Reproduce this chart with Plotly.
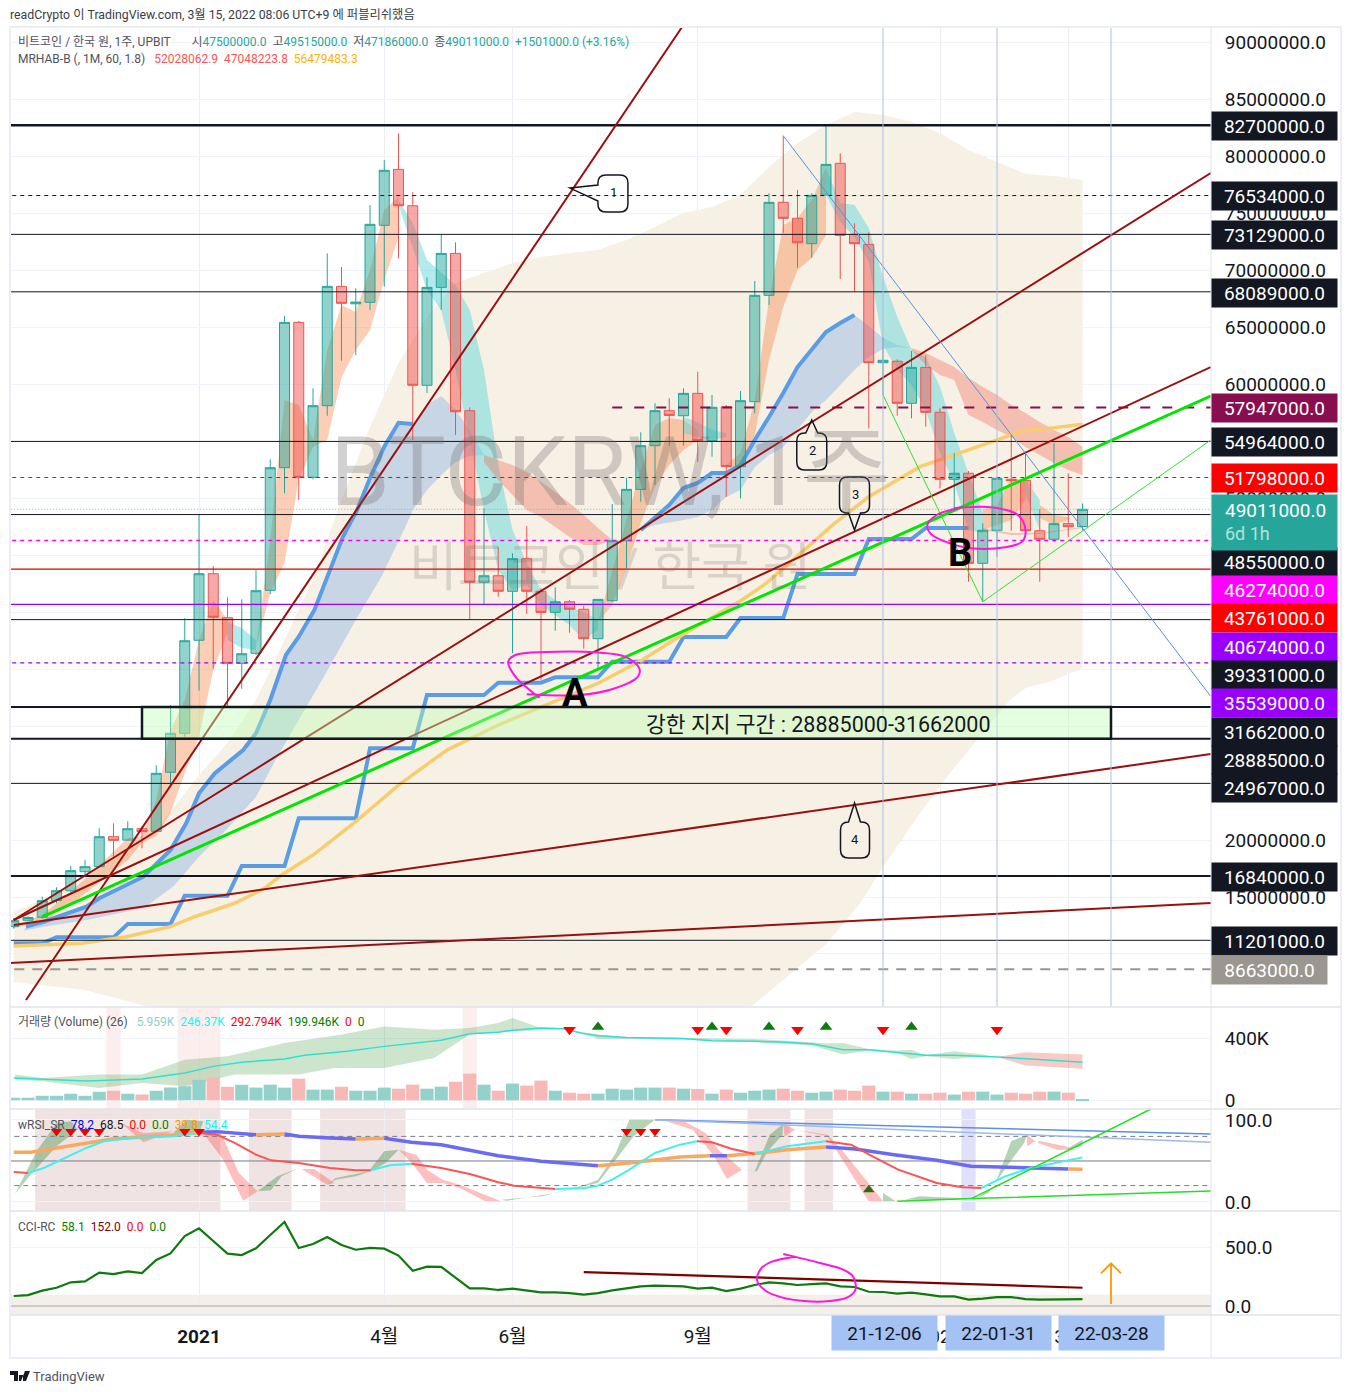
import numpy as np
import plotly.graph_objects as go

W, H = 1351, 1394
FONT = "Roboto, 'Noto Sans CJK KR', sans-serif"
INK = "#131722"

# ---------- weekly price data (millions KRW) ----------
opens = [12.40,12.96,13.22,14.68,15.55,17.22,17.66,20.29,19.99,20.99,20.76,25.94,29.36,37.52,43.36,39.5,35.5,36.38,41.9,52.66,
 65.41,51.82,58.1,68.57,67.04,67.17,73.92,78.83,75.64,59.89,68.48,71.46,57.66,42.61,43.18,41.82,44.68,41.82,39.97,40.9,
 40.24,37.66,41.0,46.25,50.76,54.59,57.66,57.22,59.18,55.03,58.01,52.75,58.45,67.78,75.94,74.54,72.31,76.58,79.36,73.13,
 72.25,61.87,62.0,58.31,61.46,57.52,51.64,52.17,44.27,47.17,51.64,51.55,47.13,46.38,47.75,47.5]
highs = [13.16,13.3,15.03,15.85,17.72,18.25,21.03,21.46,21.64,21.2,26.55,31.84,39.45,48.6,44.04,41.29,41.11,43.68,53.39,65.96,
 65.53,59.62,71.46,70.26,68.39,75.7,79.65,81.99,76.82,69.36,73.13,72.43,57.96,49.1,45.68,45.15,47.54,42.08,42.17,41.05,
 40.53,41.11,49.47,51.78,55.76,58.31,58.75,59.62,61.08,59.04,58.16,59.39,69.04,76.73,81.78,77.02,76.73,82.7,80.24,74.1,
 73.31,64.1,62.17,62.89,62.54,57.87,53.92,52.37,47.78,51.73,55.53,54.06,49.01,54.85,52.17,49.515]
lows = [12.22,12.9,13.1,14.45,15.18,16.78,17.6,18.54,19.94,19.27,20.7,24.68,29.06,33.1,35.03,31.69,33.27,36.23,41.58,50.41,
 49.82,51.64,57.22,62.04,62.54,66.49,68.54,71.03,55.09,59.21,66.49,55.53,39.39,40.68,41.34,36.38,39.82,34.04,38.36,38.18,
 36.78,34.91,40.9,43.83,49.68,51.14,54.56,54.59,53.18,53.62,50.11,49.97,57.43,66.93,73.27,70.2,71.08,76.58,69.21,68.1,
 56.11,59.04,57.22,56.99,56.25,50.85,48.89,42.66,40.9,44.85,47.13,47.13,42.66,46.17,46.6,47.186]
closes = [12.92,13.2,14.68,15.55,17.31,17.66,20.29,19.97,20.99,20.73,25.85,29.36,37.48,43.36,39.54,35.5,36.34,41.87,52.66,65.41,
 51.82,58.1,68.57,67.08,67.19,74.01,78.75,75.64,59.89,68.48,71.46,57.57,42.61,43.18,41.82,44.68,41.82,39.97,40.9,40.24,
 37.66,41.11,46.25,50.76,54.59,57.66,57.25,59.18,55.03,57.96,52.75,58.54,67.78,75.94,74.54,72.39,76.55,79.27,73.04,72.31,
 61.87,62.08,58.31,61.46,57.52,51.64,52.17,44.27,47.17,51.73,51.52,47.13,46.38,47.75,47.48,49.011]
volume_k = [17,17,30,30,43,30,56,62,43,37,62,82,90,133,148,88,101,82,101,82,140,69,69,88,62,62,82,75,101,75,88,120,172,101,62,108,95,127,62,49,43,43,75,69,82,82,82,
 75,73,43,69,49,62,69,75,62,49,56,69,62,95,56,56,43,43,49,37,56,56,37,49,43,56,56,49,5.959]
cci_vals = [85,93,130,155,201,209,283,271,294,280,390,446,593,658,551,444,432,489,602,712,492,525,585,517,477,492,486,427,299,333,331,240,150,150,136,147,130,116,116,110,96,110,133,153,167,172,167,
 167,147,155,127,147,178,201,192,178,186,192,167,161,121,119,105,113,99,82,82,54,62,76,76,59,54,56,56,58]
weeks = list(range(len(closes)))

# ---------- MRHAB envelope and bands (millions) ----------
env_up_w = [0,5,10,13,15,17,19,21,23,25,27,29,31,33,35,37,39,41,43,45,47,49,51,53,55,57,59,61,63,65,67,69,71,73,75]
env_up_p = [13.68,16.49,20.88,25.70,28.51,32.28,37.54,42.81,49.82,56.23,61.84,65.88,68.86,69.74,70.61,71.14,71.49,71.75,72.63,73.77,75.0,75.53,76.58,79.04,81.14,82.72,83.86,83.6,82.98,82.02,80.53,79.47,78.42,78.25,77.89]
env_lo_w = [0,5,9,11,30,50,51.7,54,57.1,59.4,61,63.4,65.7,68,69.9,71.1,72.7,75]
env_lo_p = [7.54,6.84,5.53,4.2,2.0,3.33,5.35,7.72,10.96,14.47,17.63,22.02,25.88,29.39,32.28,33.42,33.86,35.09]

orange_bands = [
 ([0,2,4,6,8,9,10,11,12,13,14,15],
  [12.46,13.42,15.44,17.81,20.18,20.35,23.51,29.65,32.28,37.54,41.05,39.3],
  [12.28,12.81,14.3,16.32,18.25,19.74,20.35,22.37,25.88,29.04,34.91,38.16]),
 ([17,18,19,20,21,22,23,24,25,26,27],
  [36.93,46.32,58.6,58.16,55.09,62.98,66.93,66.32,70.0,75.26,76.4],
  [36.93,41.67,44.3,51.58,54.47,55.09,60.61,62.98,64.74,69.12,72.89]),
 ([41,42,43,44,45,46,47,48],
  [39.12,43.68,48.07,52.46,56.4,57.02,56.84,55.96],
  [39.12,40.61,43.95,47.81,50.96,52.89,54.21,55.09]),
 ([50,51,52,53,54,55,56,57],
  [52.89,53.95,58.6,67.37,73.95,74.56,76.14,78.95],
  [52.63,52.72,55.53,62.1,66.75,70.0,71.05,73.07]),
 ([68,69,70,71],[48.95,49.39,51.75,51.58],[47.19,47.63,48.07,49.82]),
 ([72,73,74],[49.39,48.51,48.33],[48.25,47.63,48.07]),
]
cyan_bands = [
 ([15,16,17],[39.12,38.6,37.54],[37.54,36.84,36.67]),
 ([27,28,29,30,31,32,33,34,35,36,37,38,39,40,41],
  [76.14,74.12,70.88,69.82,68.68,66.49,61.23,52.89,47.19,44.3,41.93,41.05,40.44,40.0,39.3],
  [75.7,71.93,68.25,66.49,61.23,55.09,48.95,43.68,41.93,42.37,40.61,39.74,38.86,37.54,38.42]),
 ([47,48,49,50],[57.11,56.67,55.96,55.7],[55.7,55.35,55.09,55.35]),
 ([57,58,59,60,61,62,63,64,65,66,67,68],
  [78.95,75.88,75.7,73.68,69.39,65.88,62.98,62.37,59.74,55.7,52.19,48.68],
  [76.58,74.21,72.89,70.7,63.42,61.23,59.91,57.72,53.95,51.32,47.19,46.93]),
 ([71,72],[51.58,49.82],[50.26,47.19]),
]
salmon_bands = [
 ([33,34,35,36,37,38,39,40,41,42],
  [53.77,53.33,52.89,52.28,51.4,50.53,49.56,48.51,47.37,46.32],
  [53.16,51.58,50.26,48.95,48.33,47.46,46.58,45.88,45.88,46.32]),
 ([63,64,65,66,67,68,69,70,71,72,73,74,75],
  [63.16,62.72,62.11,61.49,60.53,59.74,59.04,58.16,57.46,56.67,55.96,55.35,54.47],
  [62.98,61.67,60.79,60.35,57.28,56.67,55.96,55.35,54.47,53.77,53.07,52.46,52.02]),
 ([68,70,72,75],[47.37,46.93,46.93,47.46],[47.19,46.75,46.85,47.37]),
]
blue1_w = [0.86,2.1,5.1,6,9.1,11,12.1,13,14.1,16.1,17,18,19.1,20,21.1,22.2,23.1,24.1,25,26,27,28]
blue1_p = [12.4,12.83,14.15,14.89,16.78,19.12,21.46,24.09,25.84,27.89,29.36,32.28,36.23,37.83,40.18,43.68,46.6,48.95,51.75,54.5,56.6,56.49]
blue1_tail_w = [29,30,31,32,33]
blue1_tail_p = [58.16,58.95,57.72,55.96,53.77]
blue1_lo_w = [0.7,2.1,5.1,9.1,11.2,13,14.9,17,18.5,20,21.9,24,25.8,27.6,28,29,30,31,32,33]
blue1_lo_p = [12.04,12.4,12.98,14.01,15.91,18.54,20.88,23.8,27.31,30.53,34.62,39.3,43.1,47.78,48.95,50.7,52.02,53.16,53.68,53.77]
blue2_w = [44,45,46,47,48,49,50,51,52,53,54,55,56,57,58,59]
blue2_p = [47.19,48.25,49.39,50.88,51.32,52.19,52.19,52.89,55.09,57.11,59.21,61.49,62.98,64.56,65.35,66.05]
blue2_tail_w = [60,61,62,63]
blue2_tail_p = [65.09,64.04,63.42,63.16]
blue2_lo_w = [44,45,47,48,49,50,51,52,53,54,55,56,57,58,59,60,61,62,63]
blue2_lo_p = [47.19,47.63,48.07,48.33,48.95,50.09,50.7,52.72,53.77,54.47,55.96,57.54,58.6,59.91,61.23,62.37,63.07,63.25,63.16]

step_ma = [10.94,10.94,10.94,11.46,11.46,11.46,11.46,11.46,12.63,12.63,12.63,12.63,15.11,15.11,15.11,15.11,17.72,17.72,17.72,17.72,
 21.9,21.9,21.9,21.9,21.9,28.04,28.04,28.04,28.04,32.72,32.72,32.72,32.72,32.72,33.8,33.8,33.8,33.8,34.27,34.27,34.27,34.27,
 35.64,35.64,35.64,35.64,35.64,37.81,37.81,37.81,37.81,39.47,39.47,39.47,39.47,43.33,43.33,43.33,43.33,43.33,46.4,46.4,46.4,46.4,47.37,47.37,47.37,47.37]
slow_w = [0,2.1,4.8,7.9,11,12.7,15.5,17.6,18.8,21,24,27,30.4,34,37,41,44.1,46.7,48.9,51.1,52.8,55.5,57.6,60,62.4,63.6,66.3,69.6,70.8,72.6,75]
slow_p = [10.7,10.79,10.94,11.52,12.4,13.27,14.45,15.76,16.93,18.68,21.61,24.82,27.89,30.09,31.69,33.75,35.79,37.83,39.45,41.05,42.52,45.44,47.78,50.11,51.87,52.75,53.92,55.38,55.88,56.11,56.48]

# ---------- price levels ----------
levels = [
 (82.7,"#131722",2.5,"solid"),(76.534,"#131722",1,"4px,4px"),(73.129,"#131722",1,"solid"),(68.089,"#131722",1,"solid"),
 (54.964,"#131722",1,"solid"),(51.798,"#ff0000",1,"4px,4px"),(49.011,"#7fbfb8",1,"1px,2px"),(48.55,"#131722",1,"solid"),
 (46.274,"#ff00ff",1.3,"4px,4px"),(43.761,"#e00000",1.2,"solid"),(40.674,"#9900ff",1.3,"solid"),(39.331,"#131722",1,"solid"),
 (35.539,"#9900ff",1.3,"4px,4px"),(31.662,"#131722",2,"solid"),(28.885,"#131722",2,"solid"),(24.967,"#131722",1,"solid"),
 (16.84,"#131722",2,"solid"),(11.201,"#131722",1,"solid"),(8.663,"#9b9690",2,"10px,8px")]
price_tags = [
 ("82700000.0",126,INK),("76534000.0",196,INK),("73129000.0",235,INK),("68089000.0",293,INK),("57947000.0",408,"#880e4f"),
 ("54964000.0",442,INK),("51798000.0",478,"#ff0000"),("48550000.0",562,INK),("46274000.0",590,"#ff00ff"),
 ("43761000.0",618,"#ff0000"),("40674000.0",647,"#9900ff"),("39331000.0",675,INK),("35539000.0",703,"#9900ff"),
 ("31662000.0",732,INK),("28885000.0",760,INK),("24967000.0",788,INK),("16840000.0",877,INK),("11201000.0",941,INK),("8663000.0",970,"#9b9690")]

# ---------- trend lines (week, price in millions) ----------
red_lines = [([0.86,46.9],[5.96,91.32]),([0,84],[12.98,78.51]),([0,84],[12.98,61.49]),([0,84],[12.54,27.54]),([-0.3,84.1],[9.21,14.47])]
lime_w, lime_p = [2,84],[13.25,58.95]
thin_green_w, thin_green_p = [61,68,84],[59.04,40.9,55.09]
thin_blue_w, thin_blue_p = [54,84],[81.78,32.6]
circle_a_w = [36.0,39.8,42.2,43.8,43.9,42.9,41,37.4,35.2,34.7,35.2,36.2,36.9]
circle_a_p = [32.78,32.72,33.31,34.33,35.06,36.08,36.44,36.49,36.23,35.64,34.33,33.16,32.48]
circle_b_w = [65.97,68.67,70.47,71.0,70.77,69.57,67.17,65.37,64.32,64.11,64.77,66.27]
circle_b_p = [49.1,49.18,48.51,47.19,46.17,45.68,45.59,46.17,46.9,47.63,48.51,49.1]
vlines = [61,69,77]
zone = (9,77,28.885,31.662)

# ---------- volume indicator (K) ----------
vma_w = [0,2.1,5.1,9,12,14,16,19,20.4,23.4,26,30,32,34,35,37,38.6,39.8,41,43,45.6,47,48.1,49,52,54.2,56.1,58.2,60,62.1,64,66,69,70.8,75]
vma_v = [144,138,125,138,176,219,245,267,290,316,348,387,430,439,452,467,462,434,417,406,402,398,391,385,381,374,363,327,327,310,290,290,280,269,246]
vgreen_up_w = [0.1,2,6,9,12,15,19,23,26,29.5,32,34,35,37,38.6,40,41,43,47,52,56,57,58.2,60,62,63,64,66,68,69]
vgreen_up_v = [166,144,166,166,262,284,370,424,477,456,467,499,531,467,456,439,424,409,404,396,374,366,370,331,322,327,290,316,295,280]
vgreen_lo_w = [0.1,2,6,9,12,14,15.5,20,22.5,26,29.5,32,35,38.6,40,41,43,47,52,56,58.2,60,62,63,64,66,68,69]
vgreen_lo_v = [133,123,80,112,90,133,166,166,209,209,273,424,445,456,430,396,396,391,374,353,295,322,305,267,284,267,284,280]
vred_w = [69,71,75]
vred_up = [280,310,295]
vred_lo = [280,224,204]
v_down_w = [39,48,50,55,61,69]
v_up_w = [41,49,53,57,63]
v_down_y, v_up_y = 456, 473
v_bands = [(6.5,7.5),(11.5,14.5),(31.5,32.5)]

# ---------- RSI indicator ----------
rsi_w = [0,1.2,3,5.1,6.9,9.1,11,12.1,13,14.25,17,19,20,22.2,24,26,27.9,30,32,34,37,40.1,41,43.2,46.75,48.85,50.05,52,54.26,57,59.06,61.77,64.77,67.17,69.57,74,75]
rsi_v = [60.6,60.6,65.9,72,76.8,79.3,81.3,82.9,85,85.8,82.1,82.9,80.1,78,76.8,77.6,72.8,69.9,63,56.5,49.6,44.7,44.3,47.6,54.9,56.5,56.5,59,63.8,67.1,64.6,57.7,50.8,43.5,42.7,40.2,39.8]
rsi_segments = [(0,13,"o"),(13,17,"b"),(17,19,"o"),(19,24,"b"),(24,26,"o"),(26,41,"b"),(41,48.85,"o"),(48.85,50.05,"b"),(50.05,57,"o"),(57,74,"b"),(74,75,"o")]
sig_w = [0,1,2.1,3.6,5.1,6.3,8.2,11.2,13,14.25,15.5,17,18.05,20,22.2,24,25.05,26.4,27.9,30,32,34,35.1,38,40.1,41,42,43.2,45,46.75,47.95,49,50.35,52,54.26,57,58.76,60.26,62.07,64.77,66.57,67.92,69.57,71.37,73.78,75]
sig_v = [36.6,35.4,41.5,53.7,65.9,74,78,80.1,84.1,82.1,72,57.7,50.8,47.6,41.5,38.6,38.6,44.7,46.7,41.5,34.1,24,19.9,15.9,17.1,19.9,27.2,39.4,59.8,69.9,74,72.8,65,58.5,67.9,74,69.9,55.7,39.4,23.2,17.9,17.1,31.3,41.5,49.6,54.4]
sig_segments = [(0,1,"r"),(1,13,"c"),(13,25.05,"r"),(25.05,27.9,"c"),(27.9,38,"r"),(38,47.95,"c"),(47.95,52,"r"),(52,57,"c"),(57,67.92,"r"),(67.92,75,"c")]
rsi_green = [
 ([0.1,1.6,3,4.05,4.5,3,1.3],[10.2,61.8,96.3,98.4,88.2,67.9,35.4]),
 ([11.2,12.1,13.3,13],[84.1,100.4,98.4,84.1]),
 ([17.1,18.5,20,18.8,18.05],[13,31.3,41.5,31.3,14.2]),
 ([22,22.6,24,25.05,26.1,27,26,24.9,22.6],[21.1,27.2,31.3,37.4,47.6,63.8,61.8,37.4,29.3]),
 ([34.2,37.1,40.1,41,42.25,43.2,45,43.5,42.25,41,38,34.6],[2.8,6.9,21.1,27.2,59.8,100.4,100.4,80.1,51.6,23.2,11,1.6]),
 ([51.1,52,53.05,54,53.95,52.9,52.15],[39.4,37.4,82.1,95.5,82.1,61.8,37.4]),
 ([61,61.9,61],[11,0.8,0.8]),
 ([62.5,63.55,66.25,67.15,65.95],[2.8,6.9,4.9,4.1,2.8]),
 ([67.5,68.8,70,71.1,70.9,69.7,68.4],[4.1,19.1,74,82.1,72,43.5,11]),
 ([73.9,75,75],[64.6,76,67.9]),
]
rsi_red = [
 ([7.55,9.1,11.2,9.1,8.2],[96.3,84.1,86.2,72.8,86.2]),
 ([13.2,14.55,15.8,17.1,16.1,14.7],[86.2,84.1,35.4,13,1.6,51.6]),
 ([20.2,21.1,22.5,22],[40.2,40.2,23.2,21.1]),
 ([27,28.25,29,30.1,31.3,33.1,34.2,33.1,31.3,30.1,29,27.95],[63.8,57.7,39.4,27.2,21.1,8.9,0.8,0.8,17.1,23.2,23.2,47.6]),
 ([45.5,47.05,48.55,49.45,51.1,50.05,49.15,47.65],[100,98.4,84.1,63.8,39.4,28,55.7,88.2]),
 ([54,54.85,54.1],[95.5,88.2,80.1]),
 ([54.85,57.1,58,59.05,61,60,58.75,57.1],[88.2,82.1,65.9,43.5,0.8,0.8,35.4,80.1]),
 ([71.1,71.7,71.1],[82.1,74,67.9]),
 ([71.9,73.8,74.5,73.2,71.9],[74.8,67.9,63.8,63.8,72]),
]
rsi_shade = [(1.5,14.5),(16.5,19.5),(21.5,27.5),(51.5,54.5),(55.5,57.5)]
rsi_shade_blue = (66.5,67.5)
rsi_down_w = [3,4,5,6,12,13,43,44,45]
rsi_down_y = 86
rsi_up_w, rsi_up_y = [60], 15
rsi_blue_lines = [([45,84],[100.4,82.9],"#5b8fe8"),([45,84],[100.4,72.8],"#9db9ef")]
rsi_green_lines = [([62,67.2,84],[0.8,4.1,13.4]),([67.2,79.8],[4.1,113.4])]

# ---------- CCI indicator ----------
cci_trend_w, cci_trend_v = [40,75],[288,155]
cci_circle_w = [54,55,56.66,58.16,58.9,59.06,58.46,57.26,55.46,53.96,52.76,52.16,52.46,53.2,54.86]
cci_circle_v = [441,412,362,311,249,136,71,42,42,71,130,220,319,376,418]
arrow_w = [77,77,76.3,77,77.7]
arrow_v = [17,362,277,362,277]

# ---------- x axis labels ----------
x_tickvals = [13,26,35,48,65,74]
x_ticktext = ["<b>2021</b>","4월","6월","9월","2022","3월"]
date_tags = [("21-12-06",884),("22-01-31",998),("22-03-28",1111)]

# ---------- layout geometry ----------
X0, X1 = 10.5, 1211.0
KY = 1394 / 1391
def px(x): return x / W
def py(y): return 1 - y * KY / H
xmin = (X0 - 13.75) / 14.25
xmax = (X1 - 13.75) / 14.25

M = lambda a: (np.asarray(a, float) * 1e6).tolist()
fig = go.Figure()

def fillpoly(x, y, color, ax="y", z=0):
    fig.add_trace(go.Scatter(x=x, y=y, mode="lines", fill="toself", fillcolor=color, line=dict(width=0),
                             hoverinfo="skip", showlegend=False, yaxis=ax, zorder=z))
def band(w, up, lo, color, z=0):
    fillpoly(list(w) + list(w)[::-1], M(list(up) + list(lo)[::-1]), color, z=z)
def line(x, y, color, width=1, dash="solid", ax="y", z=2, shape="linear"):
    fig.add_trace(go.Scatter(x=x, y=y, mode="lines", line=dict(color=color, width=width, dash=dash, shape=shape),
                             hoverinfo="skip", showlegend=False, yaxis=ax, zorder=z))

# envelope
fillpoly(env_up_w + env_lo_w[::-1], M(env_up_p + env_lo_p[::-1]), "#f6f0e5")
# blue bands
BLUE = "rgba(80,145,225,0.28)"
fillpoly(blue1_w + blue1_tail_w + blue1_lo_w[::-1], M(blue1_p + blue1_tail_p + blue1_lo_p[::-1]), BLUE)
fillpoly(blue2_w + blue2_tail_w + blue2_lo_w[::-1], M(blue2_p + blue2_tail_p + blue2_lo_p[::-1]), BLUE)
for b in orange_bands: band(*b, "rgba(245,125,60,0.38)")
for b in cyan_bands: band(*b, "rgba(100,215,220,0.50)")
for b in salmon_bands: band(*b, "rgba(240,95,75,0.34)")

# moving averages under the candles
line(weeks[:len(step_ma)], M(step_ma), "#5a9de4", 4, z=0)
line(blue1_w, M(blue1_p), "#5a9de4", 4, z=0)
line(blue2_w, M(blue2_p), "#5a9de4", 4, z=0)
line(slow_w, M(slow_p), "#f8cd6e", 3.5, z=0)

# candles
fig.add_trace(go.Candlestick(x=weeks, open=M(opens), high=M(highs), low=M(lows), close=M(closes),
    increasing=dict(line=dict(color="#26a69a", width=1), fillcolor="rgba(38,166,154,0.5)"),
    decreasing=dict(line=dict(color="#ef5350", width=1), fillcolor="rgba(239,83,80,0.5)"),
    whiskerwidth=0, hoverinfo="skip", showlegend=False, zorder=1))

# levels and trend lines
for v, c, wd, d in levels:
    line([xmin - 1, xmax + 1], M([v, v]), c, wd, d, z=2)
line([42, xmax + 1], M([57.947, 57.947]), "#880e4f", 2, "10px,12px", z=2)
for w_, p_ in red_lines:
    line(w_, M(p_), "#9b0f0f", 2, z=3)
line(lime_w, M(lime_p), "#00e600", 3, z=3)
line(thin_green_w, M(thin_green_p), "#33dd33", 1, z=3)
line(thin_blue_w, M(thin_blue_p), "#5b8fe0", 1, z=3)
for v in vlines:
    line([v, v], [5.35e6, 91.32e6], "#a9bdea", 1, z=3)
line(circle_a_w, M(circle_a_p), "#ff14e0", 2, z=3, shape="spline")
line(circle_b_w, M(circle_b_p), "#ff14e0", 2, z=3, shape="spline")

# volume
up = [c >= o for o, c in zip(opens, closes)]
fig.add_trace(go.Bar(x=weeks, y=[v * 1e3 for v in volume_k], yaxis="y2", width=0.92,
    marker=dict(color=["#93d2ca" if u else "#f8b8b6" for u in up], line=dict(width=0)),
    hoverinfo="skip", showlegend=False, zorder=1))
fillpoly(vgreen_up_w + vgreen_lo_w[::-1], [v * 1e3 for v in vgreen_up_v + vgreen_lo_v[::-1]], "rgba(76,160,76,0.28)", ax="y2", z=0)
fillpoly(vred_w + vred_w[::-1], [v * 1e3 for v in vred_up + vred_lo[::-1]], "rgba(240,90,80,0.32)", ax="y2", z=0)
line(vma_w, [v * 1e3 for v in vma_v], "#2fe0d0", 1.5, ax="y2", z=2)
fig.add_trace(go.Scatter(x=v_down_w, y=[v_down_y * 1e3] * len(v_down_w), mode="markers", yaxis="y2", hoverinfo="skip",
    showlegend=False, marker=dict(symbol="triangle-down", size=11, color="#ff0000"), zorder=2))
fig.add_trace(go.Scatter(x=v_up_w, y=[v_up_y * 1e3] * len(v_up_w), mode="markers", yaxis="y2", hoverinfo="skip",
    showlegend=False, marker=dict(symbol="triangle-up", size=11, color="#0a7d0a"), zorder=2))

# RSI
for g in rsi_green: fillpoly(g[0], g[1], "rgba(56,142,60,0.38)", ax="y3", z=0)
for g in rsi_red: fillpoly(g[0], g[1], "rgba(250,90,85,0.38)", ax="y3", z=0)
line([xmin - 1, xmax + 1], [80, 80], "#787b86", 1, "5px,4px", ax="y3", z=1)
line([xmin - 1, xmax + 1], [20, 20], "#787b86", 1, "5px,4px", ax="y3", z=1)
line([xmin - 1, xmax + 1], [50, 50], "#787b86", 1, ax="y3", z=1)
rw, rv = np.array(rsi_w), np.array(rsi_v)
for a, b, c in rsi_segments:
    m = (rw >= a) & (rw <= b)
    line(rw[m].tolist(), rv[m].tolist(), {"o": "#f9a85f", "b": "#6a6af2"}[c], 3.5, ax="y3", z=2)
sw, sv = np.array(sig_w), np.array(sig_v)
for a, b, c in sig_segments:
    m = (sw >= a) & (sw <= b)
    line(sw[m].tolist(), sv[m].tolist(), {"r": "#ff5252", "c": "#40f0f0"}[c], 2, ax="y3", z=2)
for w_, v_, c in rsi_blue_lines:
    line(w_, v_, c, 1.5, ax="y3", z=3)
for w_, v_ in rsi_green_lines:
    line(w_, v_, "#22e022", 1.5, ax="y3", z=3)
fig.add_trace(go.Scatter(x=rsi_down_w, y=[rsi_down_y] * len(rsi_down_w), mode="markers", yaxis="y3", hoverinfo="skip",
    showlegend=False, marker=dict(symbol="triangle-down", size=10, color="#f00000"), zorder=2))
fig.add_trace(go.Scatter(x=rsi_up_w, y=[rsi_up_y] * len(rsi_up_w), mode="markers", yaxis="y3", hoverinfo="skip",
    showlegend=False, marker=dict(symbol="triangle-up", size=10, color="#2e6b10"), zorder=2))

# CCI
line([xmin - 1, xmax + 1], [0, 0], "#a8a39d", 1, ax="y4", z=1)
line(weeks, cci_vals, "#0d7a0d", 2.2, ax="y4", z=2)
line(cci_trend_w, cci_trend_v, "#800000", 2.2, ax="y4", z=2)
line(cci_circle_w, cci_circle_v, "#ff14e0", 2, ax="y4", z=3, shape="spline")
line(arrow_w, arrow_v, "#ff9800", 1.8, ax="y4", z=3)

# ---------- shapes ----------
shapes = []
def pane_band(a, b, color, yr):
    shapes.append(dict(type="rect", xref="x", yref=yr, x0=a, x1=b, y0=0, y1=1, fillcolor=color, line_width=0, layer="below"))
for a, b in v_bands: pane_band(a, b, "#fdeeee", "y2 domain")
for a, b in rsi_shade: pane_band(a, b, "#efe3e3", "y3 domain")
pane_band(*rsi_shade_blue, "#e0e0fa", "y3 domain")
shapes.append(dict(type="rect", xref="paper", yref="y4", x0=px(X0), x1=px(X1), y0=-80, y1=95, fillcolor="#f4efe8", line_width=0, layer="below"))
shapes.append(dict(type="rect", xref="x", yref="y", x0=zone[0], x1=zone[1], y0=zone[2] * 1e6, y1=zone[3] * 1e6,
                   fillcolor="rgba(190,255,180,0.42)", line=dict(color=INK, width=2.5), layer="above"))

# frame
BORDER = "#eceef5"
shapes.append(dict(type="rect", xref="paper", yref="paper", x0=px(10), x1=px(1341), y0=py(1358), y1=py(27), line=dict(color=BORDER, width=2), fillcolor="rgba(0,0,0,0)", layer="above"))
for yy in (1007, 1109, 1211, 1315):
    shapes.append(dict(type="line", xref="paper", yref="paper", x0=px(10), x1=px(1341), y0=py(yy), y1=py(yy), line=dict(color="#e0e3eb", width=1.5), layer="above"))
shapes.append(dict(type="line", xref="paper", yref="paper", x0=px(1211), x1=px(1211), y0=py(27), y1=py(1358), line=dict(color="#e0e3eb", width=1), layer="above"))

def rounded(x0, x1, ytop, ybot, r=8, tail=None):
    """pixel-offset outline of a callout bubble around the anchor (y is up)"""
    s = f"M {x0+r} {ytop} "
    if tail == "top": s += f"L -6 {ytop} L 0 0 L 6 {ytop} "
    s += f"L {x1-r} {ytop} Q {x1} {ytop} {x1} {ytop-r} L {x1} {ybot+r} Q {x1} {ybot} {x1-r} {ybot} "
    if tail == "bottom": s += f"L 6 {ybot} L 0 0 L -6 {ybot} "
    s += f"L {x0+r} {ybot} Q {x0} {ybot} {x0} {ybot+r} "
    if tail == "left": s += f"L {x0} -13 L 0 0 L {x0} 3 "
    s += f"L {x0} {ytop-r} Q {x0} {ytop} {x0+r} {ytop} Z"
    return s
callouts = [(39.03, 77.19, rounded(28, 58, 13, -24, 8, "left")), (56, 56.84, rounded(-15, 15, -13, -50, 8, "top")),
            (59, 47.19, rounded(-15, 15, 53, 17, 8, "bottom")), (59, 23.25, rounded(-14, 15, -19, -55, 8, "top"))]
for a, p_, path in callouts:
    shapes.append(dict(type="path", xref="x", yref="y", xsizemode="pixel", ysizemode="pixel", xanchor=a, yanchor=p_ * 1e6,
                       path=path, line=dict(color=INK, width=1.5), fillcolor="rgba(255,255,255,0)", layer="above"))
# logo
shapes.append(dict(type="path", xref="paper", yref="paper", xsizemode="pixel", ysizemode="pixel", xanchor=px(10), yanchor=py(1376),
    path="M 0 5 L 8 5 L 8 -5 L 4 -5 L 4 1 L 0 1 Z M 9 5 A 2 2 0 1 1 9 4.9 Z", fillcolor=INK, line_width=0, layer="above"))
shapes.append(dict(type="path", xref="paper", yref="paper", xsizemode="pixel", ysizemode="pixel", xanchor=px(10), yanchor=py(1376),
    path="M 15 5 L 20 5 L 16 -5 L 11 -5 Z M 9 1 L 13 1 L 13 -5 L 9 -5 Z", fillcolor=INK, line_width=0, layer="above"))

# ---------- annotations ----------
ann = []
def note(x, y, text, size=12, color="#50535e", anchor="left", family=FONT, **kw):
    ann.append(dict(x=px(x), y=py(y), xref="paper", yref="paper", text=text, showarrow=False, xanchor=anchor, yanchor="middle",
                    font=dict(size=size, color=color, family=family), **kw))
def sp(text, c): return f'<span style="color:{c}">{text}</span>'
NB = "&nbsp;"

note(8, 14, "readCrypto 이 TradingView.com, 3월 15, 2022 08:06 UTC+9 에 퍼블리쉬했음", 12.3, "#3a3d47")
T = "#26a69a"
note(16, 42, "비트코인 / 한국 원, 1주, UPBIT" + NB * 7 + "시" + sp("47500000.0", T) + "  고" + sp("49515000.0", T) + "  저" + sp("47186000.0", T)
     + "  종" + sp("49011000.0", T) + "  " + sp("+1501000.0 (+3.16%)", T), 12)
note(16, 59, "MRHAB-B (, 1M, 60, 1.8)" + NB * 3 + sp("52028062.9", "#ff5252") + "  " + sp("47048223.8", "#ff5252") + "  " + sp("56479483.3", "#ffb300"), 12)
note(16, 1022, "거래량 (Volume) (26)" + NB * 3 + sp("5.959K", "#8fcfc6") + "  " + sp("246.37K", "#00ffff") + "  " + sp("292.794K", "#ff0000")
     + "  " + sp("199.946K", "#008000") + "  " + sp("0", "#ff0000") + "  " + sp("0", "#008000"), 12)
note(16, 1125, "wRSI_SR  " + sp("78.2", "#0000ff") + "  " + sp("68.5", INK) + "  " + sp("0.0", "#ff0000") + "  " + sp("0.0", "#008000")
     + "  " + sp("39.8", "#ff9800") + "  " + sp("54.4", "#00ffff"), 12)
note(16, 1227, "CCI-RC  " + sp("58.1", "#008000") + "  " + sp("152.0", "#800000") + "  " + sp("0.0", "#ff0000") + "  " + sp("0.0", "#008000"), 12)

# watermark
note(610, 472, "BTCKRW, 1주", 96, "rgba(110,105,105,0.30)", "center")
note(610, 568, "비트코인 / 한국 원", 53, "rgba(110,105,105,0.22)", "center")

note(818, 724, "강한 지지 구간 : 28885000-31662000", 21.5, INK, "center")
note(575, 693, "<b>A</b>", 38, "#000000", "center")
note(960, 553, "<b>B</b>", 38, "#000000", "center")
for n, x_, y_ in (("1", 613, 193), ("2", 812, 451), ("3", 855, 495), ("4", 855, 839)):
    note(x_, y_, n, 13, INK, "center")

# price tags
for txt, yy, c in price_tags:
    tw = 115 if txt.startswith("8663") else 125
    ann.append(dict(x=px(1211), y=py(yy), xref="paper", yref="paper", text=txt, showarrow=False, xanchor="left", yanchor="middle",
                    width=tw, height=28, bgcolor=c, align="center", font=dict(size=19, color="#ffffff", family=FONT), borderpad=0))
ann.append(dict(x=px(1211), y=py(522), xref="paper", yref="paper", showarrow=False, xanchor="left", yanchor="middle",
                text=" ", width=125, height=55, bgcolor="#26a69a", borderpad=0))
note(1223, 510, "49011000.0", 19, "#ffffff")
note(1223, 534, "6d 1h", 18, "#b6e0da")
for txt, cx in date_tags:
    ann.append(dict(x=px(cx), y=py(1333), xref="paper", yref="paper", text=txt, showarrow=False, xanchor="center", yanchor="middle",
                    width=105, height=34, bgcolor="#a4c2f4", align="center", font=dict(size=19, color=INK, family=FONT), borderpad=0))
note(31, 1376, "TradingView", 13, "#50535e")

# ---------- axes ----------
ticks_m = list(range(15, 95, 5)) + [10]
hidden = {10, 25, 30, 35, 40, 45, 55}
GRID = "#f0f3fa"
def yax(domain, rng, tv, tt):
    return dict(domain=[py(domain[1]), py(domain[0])], range=rng, side="right", anchor="x", tickmode="array", tickvals=tv, ticktext=tt,
                showgrid=True, gridcolor=GRID, gridwidth=1, zeroline=False, showline=False, ticks="outside", ticklen=9,
                tickcolor="rgba(0,0,0,0)", tickfont=dict(size=19, color=INK, family=FONT), fixedrange=True)
fig.update_layout(
    width=W, height=H, margin=dict(l=0, r=0, t=0, b=0), paper_bgcolor="#ffffff", plot_bgcolor="#ffffff",
    showlegend=False, barmode="overlay", hovermode=False, shapes=shapes, annotations=ann,
    font=dict(family=FONT), boxgap=0, boxgroupgap=0.3,
    xaxis=dict(domain=[px(X0), px(X1)], range=[xmin, xmax], anchor="y4", tickmode="array", tickvals=x_tickvals, ticktext=x_ticktext,
               showgrid=True, gridcolor="#eceef3", zeroline=False, showline=False, ticks="outside", ticklen=4, tickcolor="rgba(0,0,0,0)",
               tickfont=dict(size=19, color=INK, family=FONT), rangeslider=dict(visible=False), fixedrange=True),
    yaxis=yax((27, 1007), [5.35e6, 91.32e6], [t * 1e6 for t in ticks_m], ["" if t in hidden else f"{t*1000000}.0" for t in ticks_m]),
    yaxis2=yax((1007, 1109), [-56e3, 602e3], [0, 400e3], ["0", "400K"]),
    yaxis3=yax((1109, 1211), [-11, 113.4], [0, 100], ["0.0", "100.0"]),
    yaxis4=yax((1211, 1315), [-76, 805], [0, 500], ["0.0", "500.0"]),
)
fig.write_html("out.html", config={"displayModeBar": False},
               post_script="document.body.style.margin='0';document.documentElement.style.overflow='hidden';")
